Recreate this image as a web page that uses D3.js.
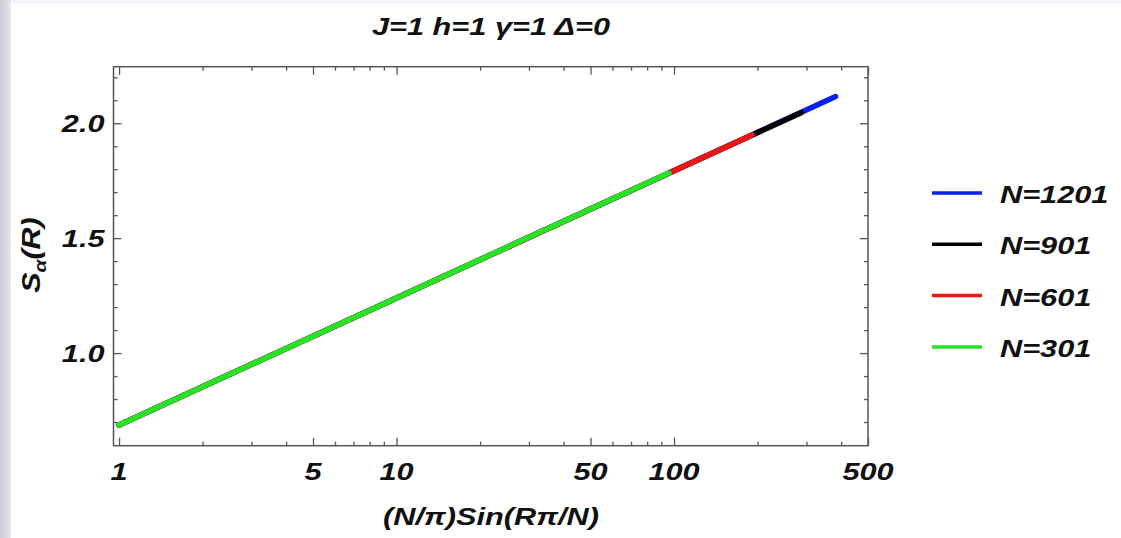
<!DOCTYPE html>
<html><head><meta charset="utf-8">
<script src="https://cdn.jsdelivr.net/npm/d3@7"></script>
<style>
body{margin:0;background:#fff;}
svg{display:block;}
text{font-family:"Liberation Sans",Arial,sans-serif;font-weight:bold;font-style:italic;}
</style></head>
<body>
<script>
// ---- data ----
const seriesNames = ["N=1201","N=901","N=601","N=301"];
const seriesColors = ["#0b1ff0","#000000","#ee1515","#25e325"];
const x1201 = [1, 10, 100, 382];
const y1201 = [0.687, 1.240, 1.793, 2.116];
const x901  = [1, 10, 100, 287];
const y901  = [0.687, 1.240, 1.793, 2.046];
const x601  = [1, 10, 100, 191];
const y601  = [0.687, 1.240, 1.793, 1.949];
const x301  = [1, 10, 50, 95.8];
const y301  = [0.687, 1.240, 1.627, 1.783];
const xTickLabels = [1, 5, 10, 50, 100, 500];
const xMinorTicks = [2,3,4,6,7,8,9,20,30,40,60,70,80,90,200,300,400];
const yTickLabels = [1.0, 1.5, 2.0];
const yMinorTicks = [0.7,0.8,0.9,1.1,1.2,1.3,1.4,1.6,1.7,1.8,1.9,2.1,2.2];
const titleText = "J=1 h=1 \u03b3=1 \u0394=0";

const W = 1121, H = 538;
const FS = 24, SX = 1.28;
const svg = d3.select("body").append("svg").attr("width", W).attr("height", H);

// background decorations
const defs = svg.append("defs");
const lg = defs.append("linearGradient").attr("id","lg").attr("x1","0").attr("x2","1").attr("y1","0").attr("y2","0");
lg.append("stop").attr("offset","0").attr("stop-color","#c9cbd2");
lg.append("stop").attr("offset","1").attr("stop-color","#e6e8ee");
svg.append("rect").attr("x",0).attr("y",0).attr("width",W).attr("height",4).attr("fill","#f3f5fb");
svg.append("rect").attr("x",0).attr("y",0).attr("width",11).attr("height",H).attr("fill","url(#lg)");

const L = 113.5, R = 868, T = 66.7, B = 445.7;
const x = d3.scaleLog().domain([0.955, 500]).range([L, R]);
const y = d3.scaleLinear().domain([0.597, 2.246]).range([B, T]);

function label(px, py, txt, anchor, rot){
  return svg.append("text")
    .attr("transform", `translate(${px},${py})` + (rot ? ` rotate(${rot})` : "") + ` scale(${SX},1)`)
    .attr("text-anchor", anchor).style("font-size", FS + "px").attr("fill", "#111").text(txt);
}

const axisColor = "#555";
function styleAxis(g){
  g.selectAll(".domain").remove();
  g.selectAll("line").attr("stroke", axisColor).attr("stroke-width", 1.3);
}
const noFmt = () => "";
// bottom
svg.append("g").attr("transform",`translate(0,${B})`)
  .call(d3.axisBottom(x).tickValues(xTickLabels).tickSizeInner(-8).tickSizeOuter(0).tickFormat(noFmt)).call(styleAxis);
svg.append("g").attr("transform",`translate(0,${B})`)
  .call(d3.axisBottom(x).tickValues(xMinorTicks).tickSizeInner(-4).tickSizeOuter(0).tickFormat(noFmt)).call(styleAxis);
// top
svg.append("g").attr("transform",`translate(0,${T})`)
  .call(d3.axisTop(x).tickValues(xTickLabels).tickSizeInner(-8).tickSizeOuter(0).tickFormat(noFmt)).call(styleAxis);
svg.append("g").attr("transform",`translate(0,${T})`)
  .call(d3.axisTop(x).tickValues(xMinorTicks).tickSizeInner(-4).tickSizeOuter(0).tickFormat(noFmt)).call(styleAxis);
// left
svg.append("g").attr("transform",`translate(${L},0)`)
  .call(d3.axisLeft(y).tickValues(yTickLabels).tickSizeInner(-8).tickSizeOuter(0).tickFormat(noFmt)).call(styleAxis);
svg.append("g").attr("transform",`translate(${L},0)`)
  .call(d3.axisLeft(y).tickValues(yMinorTicks).tickSizeInner(-4).tickSizeOuter(0).tickFormat(noFmt)).call(styleAxis);
// right
svg.append("g").attr("transform",`translate(${R},0)`)
  .call(d3.axisRight(y).tickValues(yTickLabels).tickSizeInner(-8).tickSizeOuter(0).tickFormat(noFmt)).call(styleAxis);
svg.append("g").attr("transform",`translate(${R},0)`)
  .call(d3.axisRight(y).tickValues(yMinorTicks).tickSizeInner(-4).tickSizeOuter(0).tickFormat(noFmt)).call(styleAxis);
// frame
svg.append("rect").attr("x",L).attr("y",T).attr("width",R-L).attr("height",B-T)
  .attr("fill","none").attr("stroke",axisColor).attr("stroke-width",1.5);

// tick labels
const fx = d3.format("d"), fy = d3.format(".1f");
xTickLabels.forEach(v => label(x(v), 480, fx(v), "middle"));
yTickLabels.forEach(v => label(L - 9, y(v) + 9, fy(v), "end"));

// lines
const xs = [x1201, x901, x601, x301];
const ys = [y1201, y901, y601, y301];
const line = d3.line().x(d=>x(d[0])).y(d=>y(d[1]));
seriesNames.forEach((n,i)=>{
  const pts = xs[i].map((v,j)=>[v, ys[i][j]]);
  svg.append("path").datum(pts).attr("d", line)
    .attr("fill","none").attr("stroke", seriesColors[i]).attr("stroke-width",5.5)
    .attr("stroke-linecap","round");
});

// title
label(491, 35, titleText, "middle");

// x label
label(491, 525, "(N/\u03c0)Sin(R\u03c0/N)", "middle");

// y label
const yl = svg.append("text").attr("transform","translate(40,255) rotate(-90) scale(1.22,1)")
  .attr("text-anchor","middle").style("font-size","25px").attr("fill","#111");
yl.append("tspan").text("S");
yl.append("tspan").attr("dy",6).style("font-size","17px").text("\u03b1");
yl.append("tspan").attr("dy",-6).text("(R)");

// legend
seriesNames.forEach((n,i)=>{
  const yy = 193 + i*51.3;
  svg.append("line").attr("x1",932).attr("x2",982).attr("y1",yy).attr("y2",yy)
    .attr("stroke",seriesColors[i]).attr("stroke-width",3.5);
  label(1000, yy + 10, n, "start");
});
</script>
</body></html>
